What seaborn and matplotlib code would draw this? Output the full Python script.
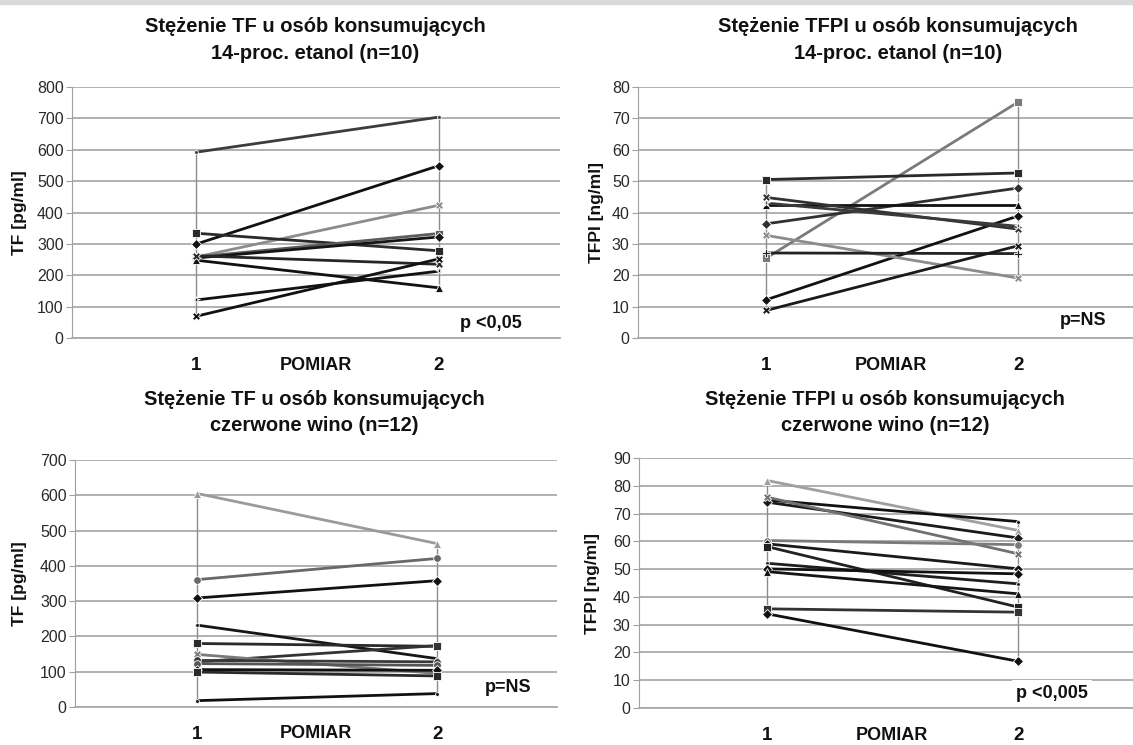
import matplotlib
matplotlib.use("Agg")
import matplotlib.pyplot as plt
from matplotlib.patches import Rectangle
import numpy as np
import pandas as pd
import seaborn as sns

sns.set_style("white")
plt.rcParams['font.family'] = ['Liberation Sans', 'DejaVu Sans']

# ---------------- data ----------------
pomiar = [1, 2]
pomiar_labels = ["1", "2"]

tf_etanol_1 = [592, 299, 258, 334, 258, 255, 248, 262, 121, 69]
tf_etanol_2 = [704, 549, 423, 278, 333, 322, 160, 235, 213, 252]

tfpi_etanol_1 = [25.5, 50.5, 36.4, 42.4, 12.2, 44.8, 43.0, 32.7, 27.1, 8.8]
tfpi_etanol_2 = [75.2, 52.6, 47.8, 42.4, 38.9, 34.7, 35.6, 19.1, 26.9, 29.4]

tf_wino_1 = [605, 361, 309, 232, 180, 128, 149, 132, 123, 106, 99, 18]
tf_wino_2 = [463, 421, 358, 137, 172, 174, 95, 128, 118, 104, 88, 38]

tfpi_wino_1 = [81.9, 74.9, 74.1, 75.9, 60.3, 59.1, 58.1, 52.1, 50.1, 49.1, 35.7, 33.9]
tfpi_wino_2 = [63.9, 67.1, 61.2, 55.5, 58.8, 50.1, 36.3, 44.7, 48.3, 41.1, 34.5, 16.8]

titles = [
    ("Stężenie TF u osób konsumujących", "14-proc. etanol (n=10)"),
    ("Stężenie TFPI u osób konsumujących", "14-proc. etanol (n=10)"),
    ("Stężenie TF u osób konsumujących", "czerwone wino (n=12)"),
    ("Stężenie TFPI u osób konsumujących", "czerwone wino (n=12)"),
]
ylabels = ["TF [pg/ml]", "TFPI [ng/ml]", "TF [pg/ml]", "TFPI [ng/ml]"]
pvalues = ["p <0,05", "p=NS", "p=NS", "p <0,005"]
xlabel = "POMIAR"

# ---------------- styles ----------------
colors_tl = ['#3c3c3c', '#111111', '#8c8c8c', '#2a2a2a', '#5c5c5c', '#151515',
             '#111111', '#262626', '#111111', '#111111']
markers_tl = ['.', 'D', 'X', 's', 's', 'D', '^', 'X', '*', 'X']
colors_tr = ['#7a7a7a', '#2a2a2a', '#303030', '#111111', '#111111', '#333333',
             '#3a3a3a', '#8c8c8c', '#222222', '#1a1a1a']
markers_tr = ['s', 's', 'D', '^', 'D', 'X', '*', 'X', 'P', 'X']
colors_bl = ['#9a9a9a', '#686868', '#111111', '#161616', '#2a2a2a', '#333333',
             '#7a7a7a', '#3a3a3a', '#555555', '#111111', '#2a2a2a', '#111111']
markers_bl = ['^', 'o', 'D', '.', 's', 's', 'X', 'o', 'o', 'D', 's', '.']
colors_br = ['#a0a0a0', '#111111', '#1a1a1a', '#707070', '#7a7a7a', '#1a1a1a',
             '#222222', '#1e1e1e', '#111111', '#151515', '#333333', '#111111']
markers_br = ['^', '.', 'D', 'X', 'o', 'D', 's', '.', 'D', '^', 's', 'D']

W, H = 1133, 745
fig = plt.figure(figsize=(W / 100, H / 100), dpi=100)
fig.patches.append(Rectangle((0, 1 - 4 / H), 1, 4 / H, transform=fig.transFigure,
                             color='#d9d9d9', zorder=0))

# panel geometry in pixels: left, top, width, bottom
panels = [
    dict(v1=tf_etanol_1, v2=tf_etanol_2, col=colors_tl, mk=markers_tl,
         geo=(72, 87, 488, 338), ylim=800, ystep=100, tcx=315, tb=(32, 59),
         ylx=20, p=(460, 323)),
    dict(v1=tfpi_etanol_1, v2=tfpi_etanol_2, col=colors_tr, mk=markers_tr,
         geo=(638, 87, 506, 338), ylim=80, ystep=10, tcx=898, tb=(32, 59),
         ylx=597, p=(1060, 320)),
    dict(v1=tf_wino_1, v2=tf_wino_2, col=colors_bl, mk=markers_bl,
         geo=(75, 460, 482, 707), ylim=700, ystep=100, tcx=314, tb=(405, 431),
         ylx=20, p=(485, 688)),
    dict(v1=tfpi_wino_1, v2=tfpi_wino_2, col=colors_br, mk=markers_br,
         geo=(639, 458, 505, 708), ylim=90, ystep=10, tcx=885, tb=(405, 431),
         ylx=593, p=(1016, 693)),
]

for i, pnl in enumerate(panels):
    left, top, width, bottom = pnl['geo']
    ax = fig.add_axes([left / W, 1 - bottom / H, width / W, (bottom - top) / H])
    n = len(pnl['v1'])
    ids = [f"s{k}" for k in range(n)]
    df = pd.DataFrame({
        'pomiar': np.repeat(pomiar, n),
        'value': list(pnl['v1']) + list(pnl['v2']),
        'id': ids + ids,
    })
    # high-low lines
    ax.vlines(pomiar, [min(pnl['v1']), min(pnl['v2'])],
              [max(pnl['v1']), max(pnl['v2'])], colors='#8c8c8c', lw=1.0, zorder=1.5)
    sns.lineplot(data=df, x='pomiar', y='value', hue='id', style='id',
                 palette=dict(zip(ids, pnl['col'])),
                 markers=dict(zip(ids, pnl['mk'])), dashes=False,
                 legend=False, ax=ax, linewidth=2.0, markersize=5.5,
                 markeredgewidth=0.6, zorder=3)
    ax.set_xlim(0.49, 2.5)
    ax.set_ylim(0, pnl['ylim'])
    ax.set_yticks(np.arange(0, pnl['ylim'] + 1, pnl['ystep']))
    ax.yaxis.grid(True, color='#aaaaaa', lw=1.3)
    ax.set_axisbelow(True)
    for s in ['top', 'right']:
        ax.spines[s].set_visible(False)
    ax.spines['left'].set_color('#a0a0a0')
    ax.spines['bottom'].set_color('#aaaaaa')
    ax.spines['bottom'].set_linewidth(1.3)
    ax.tick_params(axis='y', length=4, color='#a0a0a0', labelsize=11.5,
                   labelcolor='#2a2a2a', pad=2, left=True)
    ax.set_xticks(pomiar)
    ax.set_xticklabels(pomiar_labels, fontsize=13.5, fontweight='bold', color='#111111')
    ax.tick_params(axis='x', length=0, pad=14)
    ah = bottom - top
    ax.set_xlabel(xlabel, fontsize=13, fontweight='bold', va='center', color='#111111')
    ax.xaxis.set_label_coords(0.5, -27 / ah)
    ax.set_ylabel(ylabels[i], fontsize=12.5, fontweight='bold', va='center', color='#111111')
    ax.yaxis.set_label_coords((pnl['ylx'] - left) / width, 0.5)

    # titles
    t1, t2 = titles[i]
    for txt, b in zip((t1, t2), pnl['tb']):
        fig.text(pnl['tcx'] / W, 1 - b / H, txt, ha='center', va='baseline',
                 fontsize=14.5, fontweight='bold', color='#111111')
    # p-value
    px, py = pnl['p']
    kw = {}
    if i == 3:
        kw['bbox'] = dict(facecolor='white', edgecolor='none', pad=3)
    fig.text(px / W, 1 - py / H, pvalues[i], ha='left', va='center',
             fontsize=13, fontweight='bold', color='#111111', zorder=5, **kw)

fig.savefig("out.png", dpi=100)
